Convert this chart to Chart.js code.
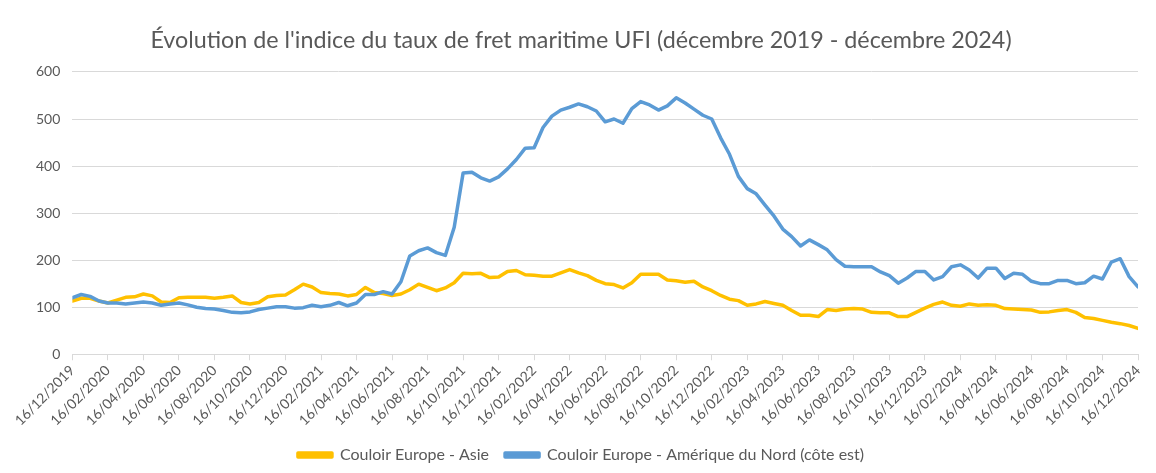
<!DOCTYPE html>
<html>
<head>
<meta charset="utf-8">
<script src="https://cdn.jsdelivr.net/npm/chart.js@4"></script>
<style>
  html, body { margin: 0; padding: 0; background: #fff; }
  canvas { display: block; }
</style>
</head>
<body>
<canvas id="freightChart" width="1156" height="473"></canvas>
<script>
// --- Data (semi-monthly readings, 16/12/2019 -> 16/12/2024) ---
const tickLabels = [
  '16/12/2019', '16/02/2020', '16/04/2020', '16/06/2020', '16/08/2020', '16/10/2020',
  '16/12/2020', '16/02/2021', '16/04/2021', '16/06/2021', '16/08/2021', '16/10/2021',
  '16/12/2021', '16/02/2022', '16/04/2022', '16/06/2022', '16/08/2022', '16/10/2022',
  '16/12/2022', '16/02/2023', '16/04/2023', '16/06/2023', '16/08/2023', '16/10/2023',
  '16/12/2023', '16/02/2024', '16/04/2024', '16/06/2024', '16/08/2024', '16/10/2024',
  '16/12/2024'
];

const seriesNames = ['Couloir Europe - Asie', 'Couloir Europe - Amérique du Nord (côte est)'];

const europeAsie = [
  113, 119, 119, 113, 109, 115, 121, 122, 128, 124,
  111, 110, 120, 121, 121, 121, 119, 121, 124, 110,
  107, 110, 122, 125, 126, 137, 149, 143, 131, 129,
  128, 124, 127, 142, 131, 129, 125, 128, 137, 149,
  142, 135, 141, 152, 172, 171, 172, 163, 164, 176,
  178, 169, 168, 166, 166, 173, 180, 173, 167, 157,
  150, 148, 141, 152, 170, 170, 170, 158, 156, 153,
  155, 143, 135, 125, 117, 114, 104, 107, 112, 108,
  104, 93, 83, 83, 80, 95, 93, 96, 97, 96,
  89, 88, 88, 80, 80, 89, 98, 106, 111, 104,
  102, 107, 104, 105, 104, 97, 96, 95, 94, 89,
  90, 93, 95, 89, 78, 76, 72, 68, 65, 61,
  55
];

const europeAmNord = [
  120, 127, 123, 113, 109, 109, 107, 109, 111, 109,
  104, 107, 109, 105, 100, 97, 96, 93, 89, 88,
  90, 95, 98, 101, 101, 98, 99, 104, 101, 104,
  110, 103, 109, 127, 127, 133, 128, 154, 209, 220,
  226, 216, 210, 270, 385, 387, 375, 368, 377, 394,
  414, 438, 439, 482, 506, 519, 525, 532, 526, 517,
  494, 500, 491, 522, 537, 530, 519, 528, 545, 534,
  521, 508, 500, 460, 425, 378, 352, 341, 317, 294,
  266, 250, 230, 243, 233, 222, 201, 187, 186, 186,
  186, 175, 167, 151, 162, 176, 176, 158, 165, 186,
  190, 179, 162, 183, 183, 161, 172, 170, 155, 150,
  150, 157, 157, 150, 152, 166, 160, 196, 203, 165,
  143
];

const STEPS_PER_TICK = 4; // 2 months per label, 2 readings per month
const TEXT = '#595959';
const GRID = '#d9d9d9';
const FONT = 'Lato';

const toPoints = arr => arr.map((v, i) => ({ x: i, y: v }));

const ctx = document.getElementById('freightChart').getContext('2d');
new Chart(ctx, {
  type: 'line',
  data: {
    datasets: [
      { label: seriesNames[0], data: toPoints(europeAsie), borderColor: '#ffc000', backgroundColor: '#ffc000', order: 1 },
      { label: seriesNames[1], data: toPoints(europeAmNord), borderColor: '#5b9bd5', backgroundColor: '#5b9bd5', order: 0 }
    ]
  },
  options: {
    responsive: false,
    animation: false,
    layout: { padding: { left: 24, right: 18, top: 0, bottom: 0 } },
    elements: {
      point: { radius: 0 },
      line: { borderWidth: 3.5, tension: 0, borderJoinStyle: 'round', borderCapStyle: 'round' }
    },
    scales: {
      x: {
        type: 'linear',
        min: 0,
        max: (tickLabels.length - 1) * STEPS_PER_TICK,
        afterBuildTicks: axis => {
          axis.ticks = tickLabels.map((_, i) => ({ value: i * STEPS_PER_TICK }));
        },
        ticks: {
          autoSkip: false,
          minRotation: 45,
          maxRotation: 45,
          color: TEXT,
          font: { family: FONT, size: 14 },
          padding: 2,
          callback: v => tickLabels[v / STEPS_PER_TICK]
        },
        grid: { drawOnChartArea: false, color: GRID, tickLength: 6 },
        border: { color: GRID }
      },
      y: {
        min: 0,
        max: 600,
        ticks: { stepSize: 100, color: TEXT, font: { family: FONT, size: 14 }, padding: 12 },
        grid: { color: GRID, drawTicks: false },
        border: { display: false }
      }
    },
    plugins: {
      title: {
        display: true,
        text: "Évolution de l'indice du taux de fret maritime UFI (décembre 2019 - décembre 2024)",
        color: TEXT,
        font: { family: FONT, size: 23.3, weight: 'normal' },
        padding: { top: 26, bottom: 18 }
      },
      legend: {
        position: 'bottom',
        labels: {
          color: TEXT,
          font: { family: FONT, size: 16 },
          boxWidth: 34,
          boxHeight: 4,
          padding: 16,
          sort: (a, b) => a.datasetIndex - b.datasetIndex
        }
      },
      tooltip: { enabled: false }
    }
  }
});
</script>
</body>
</html>
